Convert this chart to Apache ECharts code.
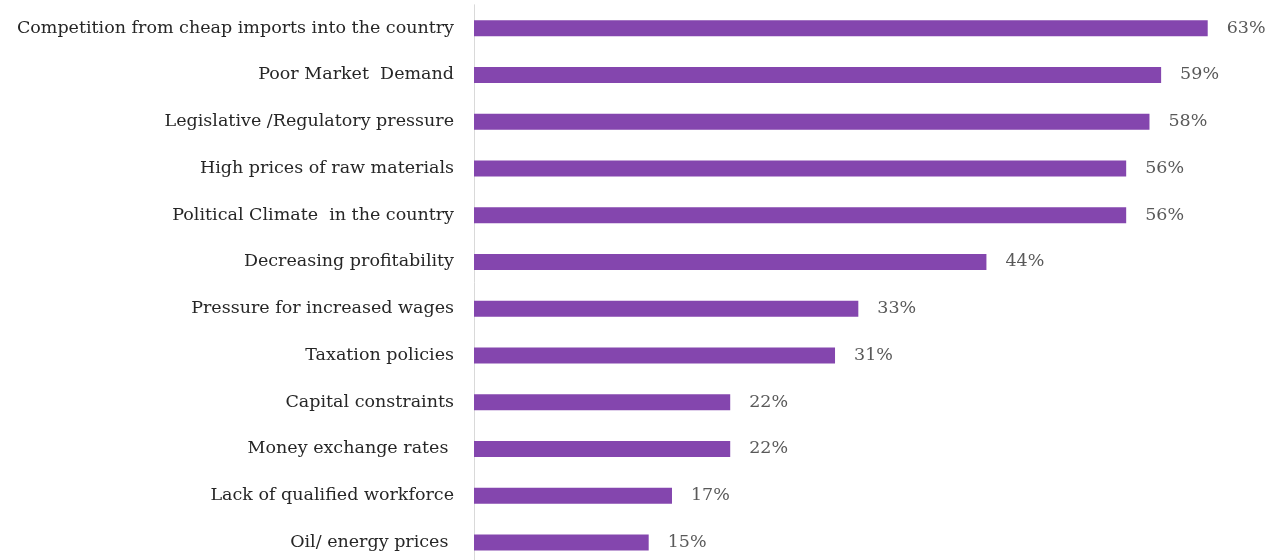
<!DOCTYPE html>
<html>
<head>
<meta charset="utf-8">
<script src="https://cdn.jsdelivr.net/npm/echarts@6/dist/echarts.min.js"></script>
<style>
  html, body { margin: 0; padding: 0; background: #fff; }
  #chart { width: 1281px; height: 560px; }
</style>
</head>
<body>
<div id="chart"></div>
<script>
// top to bottom, as in the picture
const categories = [
  'Competition from cheap imports into the country',
  'Poor Market  Demand',
  'Legislative /Regulatory pressure',
  'High prices of raw materials',
  'Political Climate  in the country',
  'Decreasing profitability',
  'Pressure for increased wages',
  'Taxation policies',
  'Capital constraints',
  'Money exchange rates ',
  'Lack of qualified workforce',
  'Oil/ energy prices '
];
const shares = [63, 59, 58, 56, 56, 44, 33, 31, 22, 22, 17, 15];

const chart = echarts.init(document.getElementById('chart'), null, { renderer: 'canvas' });

chart.setOption({
  animation: false,
  grid: {
    left: 474, right: 50, top: 4.8, height: 561,
    containLabel: false, outerBoundsMode: 'none'
  },
  xAxis: {
    type: 'value',
    min: 0,
    max: 65,
    show: false
  },
  yAxis: {
    type: 'category',
    inverse: true,
    data: categories,
    axisLine: { show: true, lineStyle: { color: '#d9d9d9', width: 1 } },
    axisTick: { show: false },
    axisLabel: {
      margin: 20,
      color: '#262626',
      fontFamily: 'DejaVu Serif',
      fontSize: 17.5,
      padding: [5, 0, 0, 0]
    }
  },
  series: [{
    type: 'bar',
    data: shares,
    barWidth: 16,
    itemStyle: { color: '#8446ae' },
    label: {
      show: true,
      position: 'right',
      distance: 19,
      formatter: '{c}%',
      color: '#595959',
      fontFamily: 'DejaVu Serif',
      fontSize: 17.5,
      padding: [5, 0, 0, 0]
    }
  }]
});
</script>
</body>
</html>
